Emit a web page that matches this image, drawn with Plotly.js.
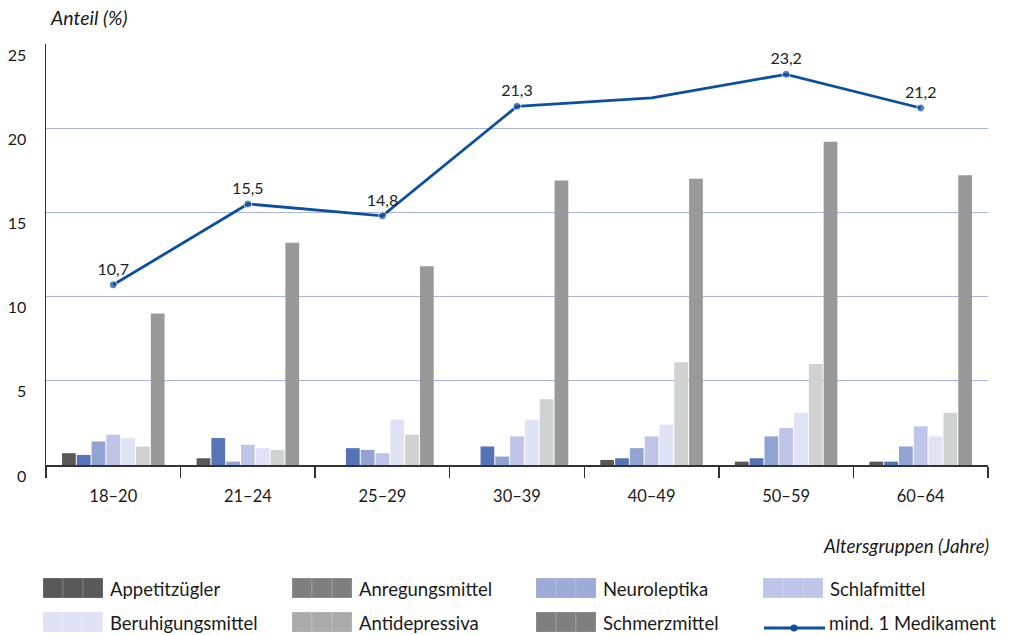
<!DOCTYPE html>
<html>
<head>
<meta charset="utf-8">
<script src="https://cdn.plot.ly/plotly-3.0.1.min.js"></script>
<style>
  html, body { margin: 0; padding: 0; background: #fff; }
  #chart { width: 1009px; height: 635px; }
</style>
</head>
<body>
<div id="chart"></div>
<script>
// ---- data ----
const categories = ['18–20', '21–24', '25–29', '30–39', '40–49', '50–59', '60–64'];
const appetitzuegler   = [0.7, 0.4, 0.0, 0.0, 0.3, 0.2, 0.2];
const anregungsmittel  = [0.6, 1.6, 1.0, 1.1, 0.4, 0.4, 0.2];
const neuroleptika     = [1.4, 0.2, 0.9, 0.5, 1.0, 1.7, 1.1];
const schlafmittel     = [1.8, 1.2, 0.7, 1.7, 1.7, 2.2, 2.3];
const beruhigungsmittel= [1.6, 1.0, 2.7, 2.7, 2.4, 3.1, 1.7];
const antidepressiva   = [1.1, 0.9, 1.8, 3.9, 6.1, 6.0, 3.1];
const schmerzmittel    = [9.0, 13.2, 11.8, 16.9, 17.0, 19.2, 17.2];
const mind1Medikament  = [10.7, 15.5, 14.8, 21.3, 21.8, 23.2, 21.2];
const mind1Labelled    = [true, true, true, true, false, true, true];

const seriesNames = ['Appetitzügler', 'Anregungsmittel', 'Neuroleptika', 'Schlafmittel',
                     'Beruhigungsmittel', 'Antidepressiva', 'Schmerzmittel'];
const lineName = 'mind. 1 Medikament';
const yTickValues = [0, 5, 10, 15, 20, 25];
const yAxisLabel = 'Anteil (%)';
const xAxisLabel = 'Altersgruppen (Jahre)';

// ---- styles ----
const barColors    = ['#595959', '#5573b5', '#91a3d3', '#bfc5e8', '#e0e3f5', '#d0d2d1', '#999999'];
const legendColors = ['#595959', '#7f7f7f', '#9eaad8', '#bec5e8', '#e0e3f5', '#ababab', '#7f7f7f'];
const lineColor = '#0b4f9e';
const FONT = 'Lato, "Open Sans", "DejaVu Sans", sans-serif';

const seriesValues = [appetitzuegler, anregungsmittel, neuroleptika, schlafmittel,
                      beruhigungsmittel, antidepressiva, schmerzmittel];

const traces = seriesValues.map((vals, i) => ({
  type: 'bar',
  name: seriesNames[i],
  x: categories,
  y: vals,
  marker: { color: barColors[i], line: { width: 0 } },
  showlegend: false,
  hoverinfo: 'x+y+name'
}));

traces.push({
  type: 'scatter',
  mode: 'lines+markers+text',
  name: lineName,
  x: categories,
  y: mind1Medikament,
  line: { color: lineColor, width: 2.8 },
  marker: { color: lineColor, size: mind1Labelled.map(s => s ? 8 : 0) },
  text: mind1Medikament.map((v, i) => mind1Labelled[i] ? v.toFixed(1).replace('.', ',') : ''),
  textposition: 'top center',
  textfont: { family: FONT, size: 16, color: '#222' },
  cliponaxis: false,
  showlegend: false
});

// ---- layout geometry (pixels) ----
const W = 1009, H = 635;
const M = { l: 46, r: 21, t: 44, b: 170 };
const pw = W - M.l - M.r, ph = H - M.t - M.b;
const px = x => (x - M.l) / pw;
const py = y => (H - M.b - y) / ph;

const shapes = [];
const annotations = [];

// custom legend
const colX = [43, 292, 536, 763];
const rowTop = [578, 612];
const allNames = seriesNames.concat([lineName]);
allNames.forEach((name, i) => {
  const c = i % 4, r = Math.floor(i / 4);
  const x0 = colX[c], top = rowTop[r];
  if (i < seriesNames.length) {
    for (let k = 0; k < 3; k++) {
      shapes.push({
        type: 'rect', xref: 'paper', yref: 'paper',
        x0: px(x0 + k * 20), x1: px(x0 + (k + 1) * 20),
        y0: py(top + 20), y1: py(top),
        fillcolor: legendColors[i],
        line: { color: 'rgba(255,255,255,0.18)', width: 1 }
      });
    }
  } else {
    shapes.push({
      type: 'line', xref: 'paper', yref: 'paper',
      x0: px(x0 + 1), x1: px(x0 + 62), y0: py(top + 16), y1: py(top + 16),
      line: { color: lineColor, width: 2.8 }
    });
    shapes.push({
      type: 'circle', xref: 'paper', yref: 'paper',
      x0: px(x0 + 27.5), x1: px(x0 + 34.5), y0: py(top + 19.5), y1: py(top + 12.5),
      fillcolor: lineColor, line: { width: 0 }
    });
  }
  annotations.push({
    xref: 'paper', yref: 'paper',
    x: px(i < seriesNames.length ? x0 + 65 : x0 + 64), y: py(top + 11),
    xanchor: 'left', yanchor: 'middle', showarrow: false,
    text: name, font: { family: FONT, size: 18.5, color: '#1a1a1a' }
  });
});

// axis titles
annotations.push({
  xref: 'paper', yref: 'paper', x: px(48), y: py(17),
  xanchor: 'left', yanchor: 'middle', showarrow: false,
  text: '<i>' + yAxisLabel + '</i>', font: { family: FONT, size: 19.5, color: '#1a1a1a' }
});
annotations.push({
  xref: 'paper', yref: 'paper', x: px(991), y: py(545),
  xanchor: 'right', yanchor: 'middle', showarrow: false,
  text: '<i>' + xAxisLabel + '</i>', font: { family: FONT, size: 18.8, color: '#1a1a1a' }
});

const layout = {
  width: W, height: H,
  margin: M,
  paper_bgcolor: '#fff', plot_bgcolor: '#fff',
  barmode: 'group',
  bargap: 0.23,
  bargroupgap: 0.07,
  showlegend: false,
  font: { family: FONT, size: 16, color: '#1a1a1a' },
  xaxis: {
    type: 'category',
    tickson: 'boundaries',
    ticks: 'outside', ticklen: 11, tickwidth: 1.5, tickcolor: '#333',
    showline: true, linecolor: '#333', linewidth: 1.5,
    showgrid: false,
    tickfont: { family: FONT, size: 16.5, color: '#1a1a1a' },
    ticklabelstandoff: 16,
    fixedrange: true
  },
  yaxis: {
    range: [0, 25],
    tickvals: yTickValues,
    ticktext: yTickValues.map(String),
    showgrid: true, gridcolor: '#a9b5e0', gridwidth: 1.3,
    zeroline: false,
    showline: true, linecolor: '#333', linewidth: 1.5,
    ticks: '',
    tickfont: { family: FONT, size: 16, color: '#1a1a1a' },
    ticklabelshift: 11,
    ticklabelstandoff: 15,
    fixedrange: true
  },
  shapes: shapes,
  annotations: annotations
};

Plotly.newPlot('chart', traces, layout, { displayModeBar: false, staticPlot: true });
</script>
</body>
</html>
